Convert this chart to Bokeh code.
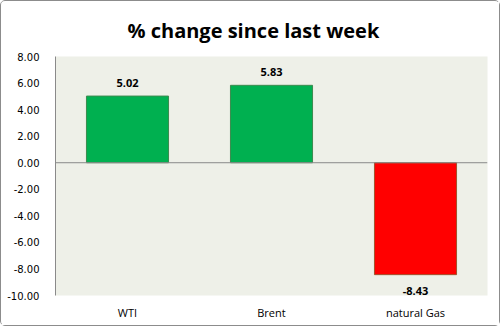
from bokeh.plotting import figure
from bokeh.models import ColumnDataSource, NumeralTickFormatter, FixedTicker, Span, Range1d, LabelSet
from bokeh.core.properties import value
from bokeh.embed import file_html
from bokeh.resources import INLINE

title_text = "% change since last week"
categories = ["WTI", "Brent", "natural Gas"]
changes = [5.02, 5.83, -8.43]
colors = ["#00B050", "#00B050", "#FF0000"]
borders = ["#3c8a4f", "#3c8a4f", "#a0522d"]
labels = ["5.02", "5.83", "-8.43"]
y_ticks = [-10, -8, -6, -4, -2, 0, 2, 4, 6, 8]

src = ColumnDataSource(dict(x=categories, top=changes, color=colors, border=borders,
                            label=labels,
                            yoff=[13 if v >= 0 else -16 for v in changes]))

p = figure(x_range=categories, y_range=Range1d(-10, 8), width=500, height=326,
           output_backend="svg", toolbar_location=None, title=title_text,
           min_border_left=54, min_border_right=14, min_border_top=55, min_border_bottom=32)
p.styles = {"border": "1px solid #8c8c8c", "border-radius": "5px"}

p.title.align = "left"
p.title.offset = 72
p.title.text_font = "Open Sans"
p.title.text_font_size = "20px"
p.title.text_font_style = "bold"
p.title.text_color = "#000000"
p.title.standoff = 26

p.background_fill_color = "#EEF0E8"
p.border_fill_color = "white"
p.outline_line_color = None
p.grid.visible = False

p.vbar(x="x", top="top", bottom=0, width=0.57, fill_color="color", line_color="border",
       line_width=1, source=src)

p.add_layout(Span(location=0, dimension="width", line_color="#8a8a8a", line_width=1))

p.add_layout(LabelSet(x="x", y="top", y_offset="yoff", text="label", source=src,
                      text_align="center", text_baseline="middle",
                      text_font=value("Open Sans"), text_font_size="11px",
                      text_font_style="bold", text_color="#000000"))

p.yaxis.ticker = FixedTicker(ticks=y_ticks)
p.yaxis.formatter = NumeralTickFormatter(format="0.00")
p.yaxis.major_tick_line_color = None
p.yaxis.minor_tick_line_color = None
p.yaxis.axis_line_color = "#8a8a8a"
p.yaxis.major_label_text_font = "DejaVu Sans"
p.yaxis.major_label_text_font_size = "10px"
p.yaxis.major_label_text_color = "#000000"
p.yaxis.major_label_standoff = 10

p.xaxis.axis_line_color = None
p.xaxis.major_tick_line_color = None
p.xaxis.minor_tick_line_color = None
p.xaxis.major_label_text_font = "Open Sans"
p.xaxis.major_label_text_font_size = "11px"
p.xaxis.major_label_text_color = "#000000"
p.xaxis.major_label_standoff = 3

open("out.html", "w").write(file_html(p, INLINE))
